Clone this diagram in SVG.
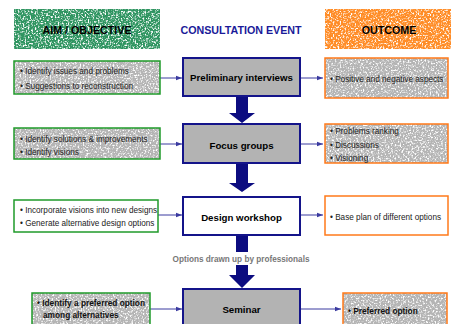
<svg xmlns="http://www.w3.org/2000/svg" width="451" height="324" viewBox="0 0 451 324">
<defs>
<style>
text{font-family:"Liberation Sans",Arial,sans-serif}
.hdr{font-size:10.7px;font-weight:bold;fill:#000;text-anchor:middle}
.ttl{font-size:10.7px;font-weight:bold;fill:#1a1a99;text-anchor:middle}
.lbl{font-size:9.7px;font-weight:bold;fill:#000;text-anchor:middle}
.b{font-size:8.2px;fill:#222}
.bb{font-size:8.3px;font-weight:bold;fill:#111}
.note{font-size:8.2px;font-weight:bold;fill:#777;text-anchor:middle}
.ev{stroke:#14148a;stroke-width:2}
.grn{fill:none;stroke:#1f9a2a;stroke-width:1.5}
.org{fill:none;stroke:#ff7a1a;stroke-width:1.5}
.con{stroke:#3a3aa0;stroke-width:1;fill:none;marker-end:url(#ah)}
.big{fill:#0c0c80}
</style>
<marker id="ah" viewBox="0 0 6 6" refX="6" refY="3" markerWidth="6" markerHeight="6" markerUnits="userSpaceOnUse" orient="auto">
<path d="M0,0.8 L6,3 L0,5.2 Z" fill="#3a3aa0"/>
</marker>
<filter id="spk" x="0" y="0" width="1" height="1" filterUnits="objectBoundingBox">
<feTurbulence type="fractalNoise" baseFrequency="0.6" numOctaves="2" seed="4"/>
<feColorMatrix type="matrix" values="0 0 0 0 1  0 0 0 0 1  0 0 0 0 1  4 0 0 0 -1.9"/>
</filter>
<filter id="spk2" x="0" y="0" width="1" height="1" filterUnits="objectBoundingBox">
<feTurbulence type="fractalNoise" baseFrequency="0.6" numOctaves="2" seed="9"/>
<feColorMatrix type="matrix" values="0 0 0 0 1  0 0 0 0 1  0 0 0 0 1  4 0 0 0 -1.95"/>
</filter>
</defs>

<g id="header-aim">
<rect x="14" y="9" width="146" height="40" fill="#2e9460"/>
<rect x="14" y="9" width="146" height="40" fill="#fff" filter="url(#spk)"/>
<text class="hdr" x="87" y="34">AIM / OBJECTIVE</text>
</g>
<g id="header-event">
<text class="ttl" x="241" y="34">CONSULTATION EVENT</text>
</g>
<g id="header-outcome">
<rect x="325" y="9" width="126" height="40" fill="#ff8c26"/>
<rect x="325" y="9" width="126" height="40" fill="#fff" filter="url(#spk2)"/>
<text class="hdr" x="389" y="34">OUTCOME</text>
</g>

<g id="connectors">
<line class="con" x1="160" y1="78" x2="182" y2="78"/>
<line class="con" x1="301" y1="78" x2="323" y2="78"/>
<line class="con" x1="160" y1="144" x2="182" y2="144"/>
<line class="con" x1="301" y1="144" x2="323" y2="144"/>
<line class="con" x1="158" y1="215" x2="182" y2="215"/>
<line class="con" x1="301" y1="215" x2="323" y2="215"/>
<line class="con" x1="150" y1="309" x2="182" y2="309"/>
<line class="con" x1="301" y1="309" x2="341" y2="309"/>
<path class="big" d="M236,96 H248 V113 H255 L242,123 L229,113 H236 Z"/>
<path class="big" d="M236,163 H248 V183 H255 L242,192 L229,183 H236 Z"/>
<rect class="big" x="236" y="236" width="12" height="16"/>
<path class="big" d="M236,265 H248 V275 H255 L242,288 L229,275 H236 Z"/>
<text class="note" x="241" y="262">Options drawn up by professionals</text>
</g>

<g id="aim1">
<rect x="14" y="61" width="146" height="33" fill="#b4b4b4"/>
<rect x="14" y="61" width="146" height="33" fill="#fff" filter="url(#spk)"/>
<rect class="grn" x="14" y="61" width="146" height="33"/>
<text class="b" x="20" y="73.5">• Identify issues and problems</text>
<text class="b" x="20" y="88.5">• Suggestions to reconstruction</text>
</g>
<g id="event1">
<rect class="ev" x="183" y="58" width="117" height="38" fill="#b3b3b3"/>
<text class="lbl" x="241.5" y="81">Preliminary interviews</text>
</g>
<g id="out1">
<rect x="325" y="58" width="123" height="40" fill="#b4b4b4"/>
<rect x="325" y="58" width="123" height="40" fill="#fff" filter="url(#spk2)"/>
<rect class="org" x="325" y="58" width="123" height="40"/>
<text class="b" x="330" y="81.5">• Positive and negative aspects</text>
</g>

<g id="aim2">
<rect x="14" y="128" width="146" height="31" fill="#b4b4b4"/>
<rect x="14" y="128" width="146" height="31" fill="#fff" filter="url(#spk2)"/>
<rect class="grn" x="14" y="128" width="146" height="31"/>
<text class="b" x="20" y="141.5">• Identify solutions &amp; improvements</text>
<text class="b" x="20" y="154.5">• Identify visions</text>
</g>
<g id="event2">
<rect class="ev" x="183" y="124" width="117" height="39" fill="#b3b3b3"/>
<text class="lbl" x="241.5" y="149">Focus groups</text>
</g>
<g id="out2">
<rect x="325" y="124" width="123" height="39" fill="#b4b4b4"/>
<rect x="325" y="124" width="123" height="39" fill="#fff" filter="url(#spk)"/>
<rect class="org" x="325" y="124" width="123" height="39"/>
<text class="b" x="330" y="134">• Problems ranking</text>
<text class="b" x="330" y="147.5">• Discussions</text>
<text class="b" x="330" y="161">• Visioning</text>
</g>

<g id="aim3">
<rect class="grn" x="14" y="200" width="144" height="32" fill="#fff"/>
<text class="b" x="20" y="212.5">• Incorporate visions into new designs</text>
<text class="b" x="20" y="225.5">• Generate alternative design options</text>
</g>
<g id="event3">
<rect class="ev" x="183" y="197" width="117" height="38" fill="#fff"/>
<text class="lbl" x="241.5" y="220.5">Design workshop</text>
</g>
<g id="out3">
<rect class="org" x="325" y="196" width="123" height="39" fill="#fff"/>
<text class="b" x="330" y="219.5">• Base plan of different options</text>
</g>

<g id="aim4">
<rect x="32" y="293" width="118" height="40" fill="#b4b4b4"/>
<rect x="32" y="293" width="118" height="40" fill="#fff" filter="url(#spk)"/>
<rect class="grn" x="32" y="293" width="118" height="40"/>
<text class="bb" x="37" y="305.5">• Identify a preferred option</text>
<text class="bb" x="43" y="318">among alternatives</text>
</g>
<g id="event4">
<rect class="ev" x="183" y="289" width="117" height="44" fill="#b3b3b3"/>
<text class="lbl" x="241.5" y="313">Seminar</text>
</g>
<g id="out4">
<rect x="343" y="293" width="104" height="40" fill="#b4b4b4"/>
<rect x="343" y="293" width="104" height="40" fill="#fff" filter="url(#spk2)"/>
<rect class="org" x="343" y="293" width="104" height="40"/>
<text class="bb" x="348" y="313.5">• Preferred option</text>
</g>
</svg>
